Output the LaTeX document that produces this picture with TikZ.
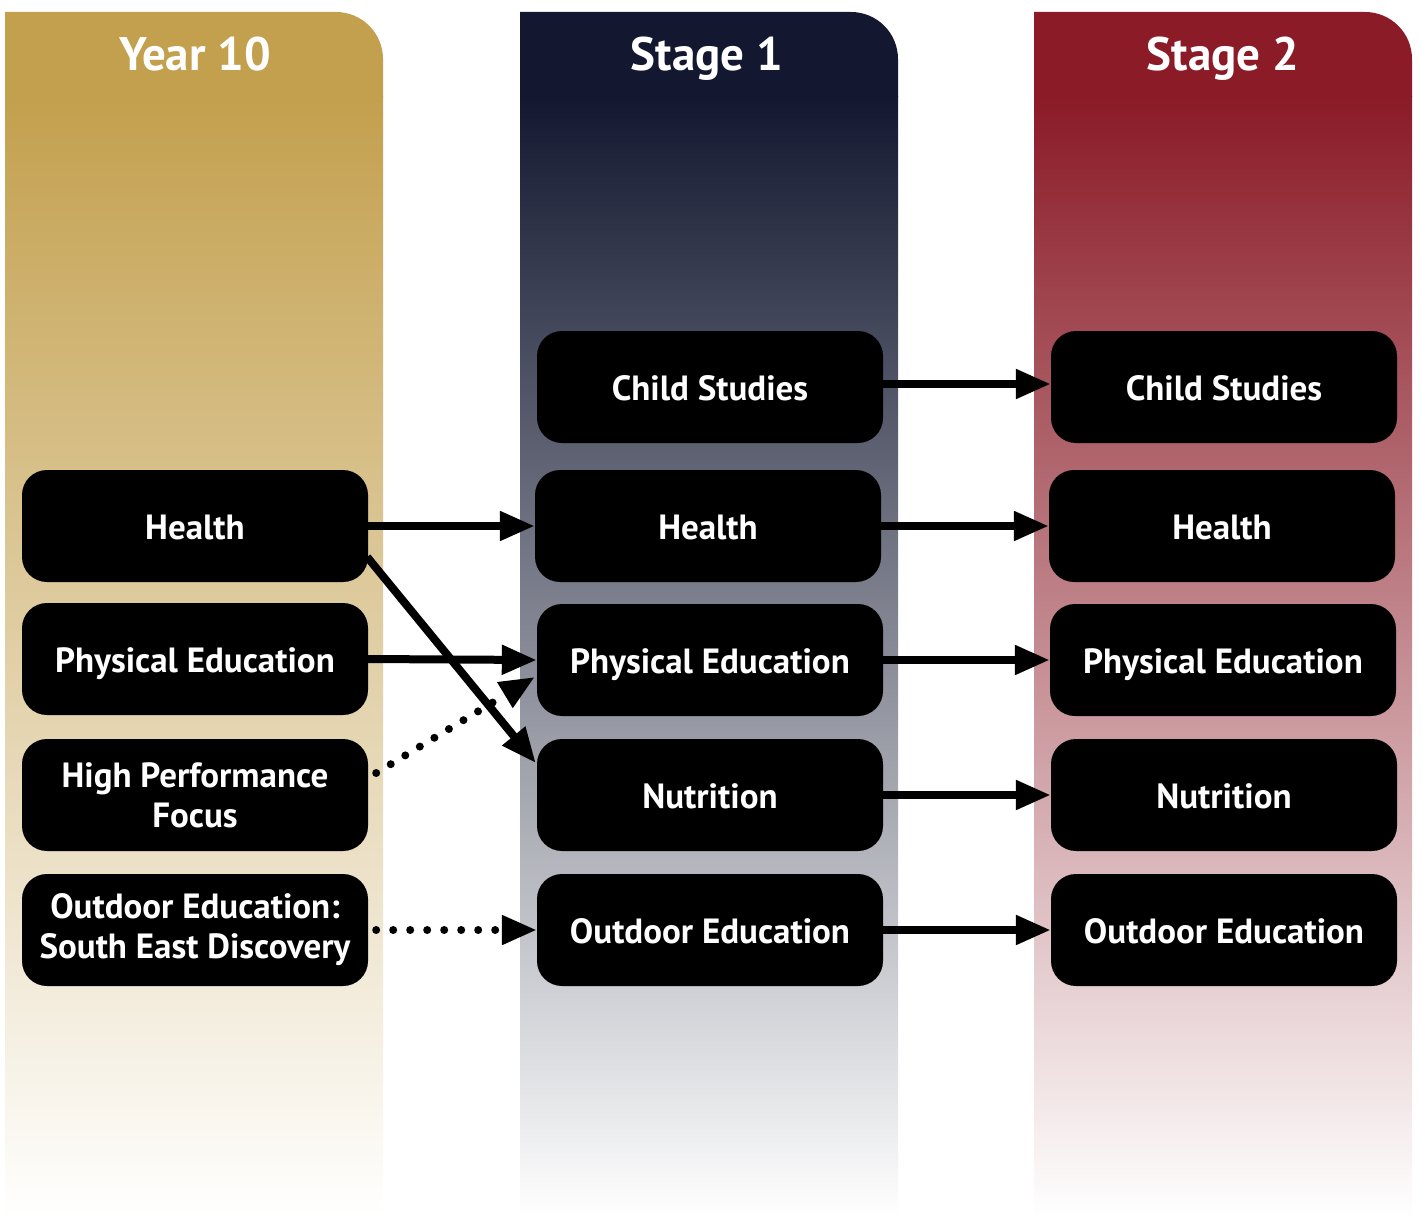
\documentclass[tikz,border=0pt]{standalone}
\usepackage{fontspec}
\newfontfamily\lblfont{PT Sans}
\usetikzlibrary{arrows.meta,calc}
\definecolor{gold}{HTML}{C3A04E}
\definecolor{navy}{HTML}{131830}
\definecolor{maroon}{HTML}{8A1B27}
\begin{document}
\begin{tikzpicture}[x=1pt,y=1pt,
  box/.style={fill=black, rounded corners=25pt, minimum width=346pt, minimum height=112pt,
    text=white, align=center, inner sep=0pt,
    font=\lblfont\bfseries\fontsize{35}{40}\selectfont},
  one/.style={text height=27pt, text depth=-3pt},
  head/.style={text=white, anchor=base, font=\lblfont\bfseries\fontsize{47}{50}\selectfont},
  arr/.style={line width=8pt, -{Triangle[length=35pt,width=28pt]}},
  dotarr/.style={line width=8pt, line cap=round, dash pattern=on 0pt off 17pt,
    -{Triangle[length=35pt,width=28pt]}}]
\useasboundingbox (0,0) rectangle (1422,-1220);
% columns
\foreach \xl/\xr/\c in {5/383/gold, 520/898/navy, 1034/1412/maroon}{
  \fill[\c] (\xl,-97) -- (\xl,-12) -- ({\xr-47},-12) arc[start angle=90,end angle=0,radius=47pt] -- (\xr,-97) -- cycle;
  \shade[top color=\c, bottom color=white] (\xl,-97) rectangle (\xr,-1218);
}
\node[head] (t1) at (195,-71) {Year 10};
\node[head] (t2) at (707,-71) {Stage 1};
\node[head] (t3) at (1223,-71) {Stage 2};
% Year 10
\node[box,one] (h0) at (195,-526) {Health};
\node[box,one] (p0) at (195,-659) {Physical Education};
\node[box] (f0) at (195,-795) {High Performance\\Focus};
\node[box] (o0) at (195,-930) {Outdoor Education:\\South East Discovery};
% Stage 1
\node[box,one] (c1) at (710,-387) {Child Studies};
\node[box,one] (h1) at (708,-526) {Health};
\node[box,one] (p1) at (710,-660) {Physical Education};
\node[box,one] (n1) at (710,-795) {Nutrition};
\node[box,one] (o1) at (710,-930) {Outdoor Education};
% Stage 2
\node[box,one] (c2) at (1224,-387) {Child Studies};
\node[box,one] (h2) at (1222,-526) {Health};
\node[box,one] (p2) at (1223,-660) {Physical Education};
\node[box,one] (n2) at (1224,-795) {Nutrition};
\node[box,one] (o2) at (1224,-930) {Outdoor Education};
% connectors
\draw[arr] (h0.east) -- (h1.west);
\draw[arr] (p0.east) -- (p1.west);
\draw[arr] ($(h0.east)+(-1,-31)$) -- ($(n1.west)+(-1,32)$);
\draw[dotarr] ($(f0.east)+(8,22)$) -- ($(p1.west)+(-2,-17)$);
\draw[dotarr] ($(o0.east)+(8,0)$) -- (o1.west);
\draw[arr] ($(c1.east)+(0,3)$) -- ($(c2.west)+(0,3)$);
\draw[arr] (h1.east) -- (h2.west);
\draw[arr] (p1.east) -- (p2.west);
\draw[arr] (n1.east) -- (n2.west);
\draw[arr] (o1.east) -- (o2.west);
\end{tikzpicture}
\end{document}
